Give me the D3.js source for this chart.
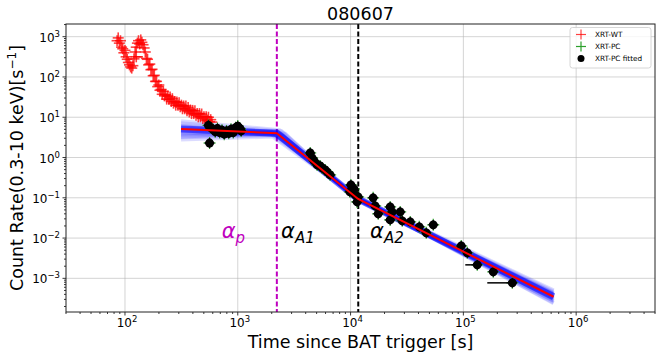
<!DOCTYPE html>
<html>
<head>
<meta charset="utf-8">
<script src="https://cdn.jsdelivr.net/npm/d3@7"></script>
<style>
  html, body { margin: 0; padding: 0; background: #fff; }
  svg { display: block; font-family: "DejaVu Sans", sans-serif; }
</style>
</head>
<body>
<div id="chart"></div>
<script>
// GRB 080607 - XRT light curve with broken power-law fit

const grbName = "080607";

// XRT-WT data (log10 time [s], log10 rate [cts/s])
const wtLogTime = [1.93, 1.94, 1.95, 1.96, 1.97, 1.98, 1.99, 2.00, 2.01, 2.02, 2.03, 2.04, 2.05,
  2.06, 2.07, 2.08, 2.09, 2.10, 2.11, 2.12, 2.13, 2.14, 2.15, 2.16, 2.17,
  2.18, 2.19, 2.20, 2.21, 2.22, 2.23, 2.24, 2.25, 2.26, 2.27, 2.28, 2.29, 2.30, 2.31, 2.32, 2.33,
  2.34, 2.35, 2.36, 2.37, 2.38, 2.39, 2.40, 2.41, 2.42, 2.43, 2.44, 2.45, 2.46, 2.47, 2.48, 2.49,
  2.50, 2.51, 2.52, 2.53, 2.54, 2.55, 2.56, 2.57, 2.58, 2.59, 2.60, 2.61, 2.62, 2.63, 2.64, 2.65,
  2.66, 2.67, 2.68, 2.69, 2.70, 2.71, 2.72, 2.73, 2.74, 2.75, 2.76, 2.77];
const wtLogRate = [2.90, 2.97, 2.84, 2.90, 2.74, 2.70, 2.60, 2.66, 2.50, 2.44, 2.36, 2.30, 2.25,
  2.22, 2.28, 2.45, 2.62, 2.74, 2.84, 2.90, 2.82, 2.92, 2.86, 2.80, 2.72,
  2.62, 2.46, 2.44, 2.30, 2.32, 2.18, 2.19, 2.03, 2.04, 1.89, 1.89, 1.76, 1.80, 1.67, 1.69, 1.57,
  1.64, 1.53, 1.56, 1.45, 1.53, 1.44, 1.50, 1.39, 1.46, 1.35, 1.39, 1.30, 1.38, 1.30, 1.36, 1.26,
  1.30, 1.21, 1.28, 1.21, 1.28, 1.16, 1.24, 1.13, 1.18, 1.09, 1.17, 1.09, 1.16, 1.05, 1.09, 1.01,
  1.09, 1.01, 1.08, 0.97, 1.01, 0.93, 1.01, 0.93, 1.00, 0.89, 0.94, 0.88];
// one WT bin with a wide time error
const wtWideBin = { logTime: 2.10, logRate: 2.50, logLo: 2.07, logHi: 2.16 };

// XRT-PC data (also the fitted points)
const pcLogTime = [2.74, 2.75, 2.76, 2.78, 2.80, 2.82, 2.84, 2.86, 2.88, 2.90, 2.92, 2.94, 2.96,
  2.98, 3.00, 3.02, 3.03,
  3.642, 3.659, 3.677, 3.704, 3.730, 3.748, 3.775, 3.792, 3.819,
  4.003, 4.030, 3.994, 4.041, 4.067, 4.058,
  4.200, 4.218, 4.245, 4.351, 4.369, 4.351, 4.440, 4.458, 4.529, 4.609, 4.671, 4.733,
  4.981, 5.035, 5.123, 5.265, 5.434];
const pcLogRate = [0.80, 0.36, 0.74, 0.70, 0.64, 0.72, 0.62, 0.68, 0.58, 0.66, 0.60, 0.70, 0.62,
  0.74, 0.78, 0.72, 0.66,
  0.114, -0.010, -0.085, -0.184, -0.208, -0.258, -0.307, -0.357, -0.432,
  -0.680, -0.779, -0.853, -0.928, -0.978, -1.102,
  -1.002, -1.201, -1.399, -1.226, -1.350, -1.549, -1.350, -1.573, -1.598, -1.722, -1.871, -1.672,
  -2.194, -2.367, -2.665, -2.839, -3.112];
// lower time edge for the late wide bins (null = not drawn)
const pcLogTimeLo = [null, null, null, null, null, null, null, null, null, null, null, null, null,
  null, null, null, null,
  null, null, null, null, null, null, null, null, null,
  null, null, null, null, null, null,
  null, null, null, null, null, null, null, null, null, null, null, null,
  null, null, 5.017, null, 5.212];

// best fit broken power law: vertices (log10 time, log10 rate)
const fitLogTime = [2.497, 3.346, 4.067, 5.80];
const fitLogRate = [0.71, 0.603, -1.03, -3.457];

// posterior samples: start rate, break 1, break 2, end rate
const sampleStartRate = [0.80, 0.55, 0.68, 0.62, 0.85, 0.50, 0.75, 0.58, 0.90, 0.45, 0.72, 0.65, 0.70, 0.52, 0.78, 0.60];
const sampleBreak1Time = [3.33, 3.36, 3.30, 3.40, 3.35, 3.34, 3.38, 3.32, 3.37, 3.31, 3.36, 3.29, 3.42, 3.35, 3.33, 3.39];
const sampleBreak1Rate = [0.62, 0.58, 0.64, 0.55, 0.66, 0.55, 0.60, 0.58, 0.68, 0.52, 0.63, 0.60, 0.59, 0.61, 0.57, 0.65];
const sampleBreak2Time = [4.07, 4.06, 4.09, 4.05, 4.08, 4.06, 4.05, 4.10, 4.04, 4.08, 4.07, 4.11, 4.03, 4.07, 4.08, 4.06];
const sampleBreak2Rate = [-1.04, -1.01, -1.06, -1.02, -1.05, -1.00, -1.03, -1.08, -1.01, -1.03, -1.02, -1.07, -1.00, -1.04, -1.02, -1.05];
const sampleEndRate = [-3.40, -3.52, -3.38, -3.55, -3.33, -3.60, -3.45, -3.48, -3.36, -3.62, -3.30, -3.50, -3.42, -3.56, -3.39, -3.47];

// break times and phase labels
const breakTimes = [2220, 11700];
const phaseLabels = [
  { main: "α", sub: "p", time: 720, rate: 0.0101, color: "#bf00bf" },
  { main: "α", sub: "A1", time: 2420, rate: 0.0101, color: "#000" },
  { main: "α", sub: "A2", time: 14900, rate: 0.0101, color: "#000" }
];

const xTickExp = [2, 3, 4, 5, 6];
const yTickExp = [-3, -2, -1, 0, 1, 2, 3];

// -----------------------------------------------
const width = 664, height = 358;
const margin = { top: 24, right: 9, bottom: 46, left: 66 };

const svg = d3.select("#chart").append("svg")
  .attr("width", width)
  .attr("height", height);

const x = d3.scaleLog().domain([30, 5.0e6]).range([margin.left, width - margin.right]);
const y = d3.scaleLog().domain([1.46e-4, 2065]).range([height - margin.bottom, margin.top]);
const p10 = v => Math.pow(10, v);

const x0 = margin.left, x1 = width - margin.right;
const y0 = margin.top, y1 = height - margin.bottom;

// clip
svg.append("clipPath").attr("id", "plotclip")
  .append("rect").attr("x", x0).attr("y", y0).attr("width", x1 - x0).attr("height", y1 - y0);

// grid
const grid = svg.append("g").attr("stroke", "#b0b0b0").attr("stroke-opacity", 0.55).attr("stroke-width", 1);
xTickExp.forEach(e => {
  grid.append("line").attr("x1", x(p10(e))).attr("x2", x(p10(e))).attr("y1", y0).attr("y2", y1);
});
yTickExp.forEach(e => {
  grid.append("line").attr("x1", x0).attr("x2", x1).attr("y1", y(p10(e))).attr("y2", y(p10(e)));
});

const plot = svg.append("g").attr("clip-path", "url(#plotclip)");

// vertical break lines
plot.append("line")
  .attr("x1", x(breakTimes[0])).attr("x2", x(breakTimes[0]))
  .attr("y1", y0).attr("y2", y1)
  .attr("stroke", "#bf00bf").attr("stroke-width", 2).attr("stroke-dasharray", "5,2.5");
plot.append("line")
  .attr("x1", x(breakTimes[1])).attr("x2", x(breakTimes[1]))
  .attr("y1", y0).attr("y2", y1)
  .attr("stroke", "#000").attr("stroke-width", 2).attr("stroke-dasharray", "5,2.5");

// model samples
const line = d3.line().x(d => x(p10(d[0]))).y(d => y(p10(d[1])));
sampleStartRate.forEach((s, i) => {
  const pts = [[fitLogTime[0], s], [sampleBreak1Time[i], sampleBreak1Rate[i]],
    [sampleBreak2Time[i], sampleBreak2Rate[i]], [fitLogTime[3], sampleEndRate[i]]];
  plot.append("path").attr("d", line(pts))
    .attr("fill", "none").attr("stroke", "#0000ff")
    .attr("stroke-width", 4).attr("stroke-opacity", 0.14);
});
plot.append("path").attr("d", line(fitLogTime.map((t, i) => [t, fitLogRate[i]])))
  .attr("fill", "none").attr("stroke", "#0000ff").attr("stroke-width", 7).attr("stroke-opacity", 0.55);

// WT points
const wt = plot.append("g").attr("stroke", "#ff0000").attr("stroke-opacity", 0.75).attr("stroke-width", 1.6);
function plus(g, cx, cy, r) {
  g.append("line").attr("x1", cx - r).attr("x2", cx + r).attr("y1", cy).attr("y2", cy);
  g.append("line").attr("x1", cx).attr("x2", cx).attr("y1", cy - r).attr("y2", cy + r);
}
wtLogTime.forEach((t, i) => plus(wt, x(p10(t)), y(p10(wtLogRate[i])), 5.5));
wt.append("line")
  .attr("x1", x(p10(wtWideBin.logLo))).attr("x2", x(p10(wtWideBin.logHi)))
  .attr("y1", y(p10(wtWideBin.logRate))).attr("y2", y(p10(wtWideBin.logRate)));
plus(wt, x(p10(wtWideBin.logTime)), y(p10(wtWideBin.logRate)), 5.5);

// PC points: green crosses under black markers
const pc = plot.append("g").attr("stroke", "#2ca02c").attr("stroke-width", 1.2);
pcLogTime.forEach((t, i) => plus(pc, x(p10(t)), y(p10(pcLogRate[i])), 6));

const fitted = plot.append("g");
pcLogTime.forEach((t, i) => {
  const cx = x(p10(t)), cy = y(p10(pcLogRate[i]));
  if (pcLogTimeLo[i] !== null) {
    fitted.append("line").attr("x1", x(p10(pcLogTimeLo[i]))).attr("x2", cx)
      .attr("y1", cy).attr("y2", cy).attr("stroke", "#000").attr("stroke-width", 1.5);
  }
  fitted.append("path")
    .attr("d", `M${cx},${cy - 5.2}L${cx + 5.2},${cy}L${cx},${cy + 5.2}L${cx - 5.2},${cy}Z`)
    .attr("fill", "#000");
  fitted.append("circle").attr("cx", cx).attr("cy", cy).attr("r", 4.4).attr("fill", "#000");
});

// best fit line
plot.append("path").attr("d", line(fitLogTime.map((t, i) => [t, fitLogRate[i]])))
  .attr("fill", "none").attr("stroke", "#ff0000").attr("stroke-width", 2);

// phase labels
phaseLabels.forEach(l => {
  const t = svg.append("text")
    .attr("x", x(l.time)).attr("y", y(l.rate))
    .attr("fill", l.color).attr("font-size", 21).attr("font-style", "italic");
  t.append("tspan").text(l.main);
  t.append("tspan").attr("dy", 5).attr("font-size", 15).text(l.sub);
});

// axes frame
svg.append("rect").attr("x", x0).attr("y", y0).attr("width", x1 - x0).attr("height", y1 - y0)
  .attr("fill", "none").attr("stroke", "#222").attr("stroke-width", 1);

// ticks
const ticks = svg.append("g").attr("stroke", "#222").attr("stroke-width", 0.9);
x.ticks().forEach(v => {
  const major = Math.abs(Math.log10(v) - Math.round(Math.log10(v))) < 1e-9;
  ticks.append("line").attr("x1", x(v)).attr("x2", x(v)).attr("y1", y1).attr("y2", y1 + (major ? 3.5 : 2));
});
y.ticks().forEach(v => {
  const major = Math.abs(Math.log10(v) - Math.round(Math.log10(v))) < 1e-9;
  ticks.append("line").attr("y1", y(v)).attr("y2", y(v)).attr("x1", x0).attr("x2", x0 - (major ? 3.5 : 2));
});

function expLabel(sel, e) {
  sel.append("tspan").text("10");
  sel.append("tspan").attr("dy", -5).attr("font-size", 8.5).text(e < 0 ? "\u2212" + (-e) : e);
}
xTickExp.forEach(e => {
  const t = svg.append("text").attr("x", x(p10(e)) + 2).attr("y", y1 + 15)
    .attr("text-anchor", "middle").attr("font-size", 12).attr("fill", "#000");
  expLabel(t, e);
});
yTickExp.forEach(e => {
  const t = svg.append("text").attr("x", x0 - 6).attr("y", y(p10(e)) + 5)
    .attr("text-anchor", "end").attr("font-size", 12).attr("fill", "#000");
  expLabel(t, e);
});

// axis labels and title
svg.append("text").attr("x", (x0 + x1) / 2).attr("y", 348)
  .attr("text-anchor", "middle").attr("font-size", 17.5).text("Time since BAT trigger [s]");

const yl = svg.append("text")
  .attr("transform", `translate(23,${(y0 + y1) / 2}) rotate(-90)`)
  .attr("text-anchor", "middle").attr("font-size", 17.5);
yl.append("tspan").text("Count Rate(0.3-10 keV)[s");
yl.append("tspan").attr("dy", -7).attr("font-size", 12).text("\u22121");
yl.append("tspan").attr("dy", 7).text("]");

svg.append("text").attr("x", (x0 + x1) / 2).attr("y", 20)
  .attr("text-anchor", "middle").attr("font-size", 17.5).text(grbName);

// legend
const legend = svg.append("g");
legend.append("rect").attr("x", 570).attr("y", 27.5).attr("width", 81).attr("height", 40.5)
  .attr("rx", 2.5).attr("fill", "#fff").attr("fill-opacity", 0.8)
  .attr("stroke", "#ccc").attr("stroke-width", 0.8);
const legendItems = ["XRT-WT", "XRT-PC", "XRT-PC fitted"];
legendItems.forEach((name, i) => {
  const ly = 34.5 + i * 12;
  if (i === 0) plus(legend.append("g").attr("stroke", "#ff0000").attr("stroke-opacity", 0.75).attr("stroke-width", 1.2), 581, ly, 5);
  if (i === 1) plus(legend.append("g").attr("stroke", "#2ca02c").attr("stroke-width", 1.2), 581, ly, 5);
  if (i === 2) legend.append("circle").attr("cx", 581).attr("cy", ly).attr("r", 3.5).attr("fill", "#000");
  legend.append("text").attr("x", 595).attr("y", ly + 2.7).attr("font-size", 7.3).text(name);
});
</script>
</body>
</html>
